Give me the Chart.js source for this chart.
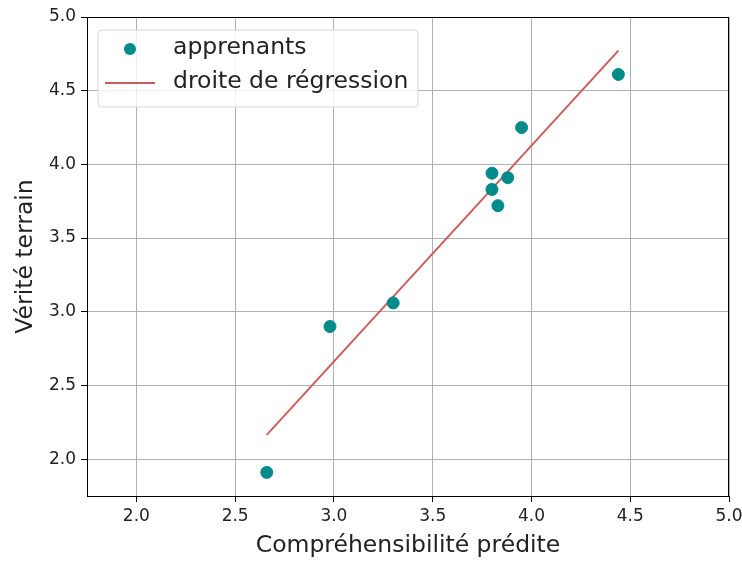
<!DOCTYPE html>
<html>
<head>
<meta charset="utf-8">
<script src="https://cdn.jsdelivr.net/npm/chart.js@4"></script>
<style>
  html, body { margin: 0; padding: 0; background: #fff; }
  #wrap { width: 742px; height: 561px; }
</style>
</head>
<body>
<div id="wrap"><canvas id="graphe"></canvas></div>
<script>
// valeurs
var comprehPredite = [2.66, 2.98, 3.30, 3.80, 3.80, 3.83, 3.88, 3.95, 4.44];
var veriteTerrain  = [1.91, 2.90, 3.06, 3.94, 3.83, 3.72, 3.91, 4.25, 4.61];
var droiteX = [2.66, 4.44];
var droiteY = [2.165, 4.772];
var graduations = [2.0, 2.5, 3.0, 3.5, 4.0, 4.5, 5.0];
var etiquettes = ['apprenants', 'droite de régression'];

var POLICE = 'DejaVu Sans, sans-serif';

var versPoints = function(xs, ys) {
    const pts = [];
    xs.forEach((x, i) => {
        pts.push({ x: x, y: ys[i] });
    });
    return pts;
}

// cadre noir + légende dans la zone du graphe
var cadreEtLegende = {
    id: 'cadreEtLegende',
    afterDraw: function(chart) {
        const ctx = chart.ctx;
        const a = chart.chartArea;
        ctx.save();
        ctx.strokeStyle = '#000';
        ctx.lineWidth = 1;
        ctx.strokeRect(a.left + 0.5, a.top + 0.5, a.right - a.left - 1, a.bottom - a.top);

        // légende
        const x0 = a.left + 11, y0 = a.top + 13, w = 320, h = 77, r = 4;
        ctx.beginPath();
        ctx.moveTo(x0 + r, y0);
        ctx.arcTo(x0 + w, y0, x0 + w, y0 + h, r);
        ctx.arcTo(x0 + w, y0 + h, x0, y0 + h, r);
        ctx.arcTo(x0, y0 + h, x0, y0, r);
        ctx.arcTo(x0, y0, x0 + w, y0, r);
        ctx.closePath();
        ctx.fillStyle = 'rgba(255,255,255,0.8)';
        ctx.fill();
        ctx.strokeStyle = '#d6d6d6';
        ctx.stroke();

        ctx.fillStyle = '#008b8b';
        ctx.beginPath();
        ctx.arc(x0 + 32, y0 + 19, 6, 0, Math.PI * 2);
        ctx.fill();

        ctx.strokeStyle = '#cd5c5c';
        ctx.lineWidth = 2;
        ctx.beginPath();
        ctx.moveTo(x0 + 7, y0 + 53);
        ctx.lineTo(x0 + 57, y0 + 53);
        ctx.stroke();

        ctx.fillStyle = '#222';
        ctx.font = '23.5px ' + POLICE;
        ctx.textBaseline = 'middle';
        ctx.fillText(etiquettes[0], x0 + 75, y0 + 18);
        ctx.fillText(etiquettes[1], x0 + 75, y0 + 52);
        ctx.restore();
    }
};

const ctx = document.getElementById('graphe');

new Chart(ctx, {
    data: {
        datasets: [{
            type: 'line',
            label: etiquettes[1],
            data: versPoints(droiteX, droiteY),
            borderColor: '#cd5c5c',
            borderWidth: 2,
            pointRadius: 0,
            fill: false,
            order: 2
        }, {
            type: 'scatter',
            label: etiquettes[0],
            data: versPoints(comprehPredite, veriteTerrain),
            backgroundColor: '#008b8b',
            borderColor: '#008b8b',
            pointRadius: 6,
            pointHoverRadius: 6,
            order: 1
        }]
    },
    options: {
        responsive: true,
        maintainAspectRatio: false,
        animation: false,
        layout: { padding: { top: 17, right: 13, left: 0, bottom: 0 } },
        plugins: {
            legend: { display: false },
            tooltip: { enabled: false }
        },
        scales: {
            x: {
                type: 'linear',
                min: 1.75,
                max: 5.0,
                afterBuildTicks: function(scale) {
                    scale.ticks = graduations.map(v => ({ value: v }));
                },
                afterFit: function(scale) {
                    scale.height = 65;
                    scale.paddingLeft = 0;
                    scale.paddingRight = 0;
                },
                grid: { color: '#b0b0b0', tickColor: '#000', tickLength: 6, lineWidth: 1 },
                border: { display: false },
                ticks: {
                    color: '#222',
                    font: { family: POLICE, size: 17 },
                    padding: 4,
                    maxRotation: 0,
                    callback: v => v.toFixed(1)
                },
                title: {
                    display: true,
                    text: 'Compréhensibilité prédite',
                    color: '#222',
                    font: { family: POLICE, size: 23.5 },
                    padding: { top: 0, bottom: 1 }
                }
            },
            y: {
                type: 'linear',
                min: 1.75,
                max: 5.0,
                afterBuildTicks: function(scale) {
                    scale.ticks = graduations.map(v => ({ value: v }));
                },
                afterFit: function(scale) {
                    scale.width = 87;
                    scale.paddingTop = 0;
                    scale.paddingBottom = 0;
                },
                grid: { color: '#b0b0b0', tickColor: '#000', tickLength: 6, lineWidth: 1 },
                border: { display: false },
                ticks: {
                    color: '#222',
                    font: { family: POLICE, size: 17 },
                    padding: 5,
                    callback: v => v.toFixed(1)
                },
                title: {
                    display: true,
                    text: 'Vérité terrain',
                    color: '#222',
                    font: { family: POLICE, size: 23.5 },
                    padding: { top: 12, bottom: 0 }
                }
            }
        }
    },
    plugins: [cadreEtLegende]
});
</script>
</body>
</html>
